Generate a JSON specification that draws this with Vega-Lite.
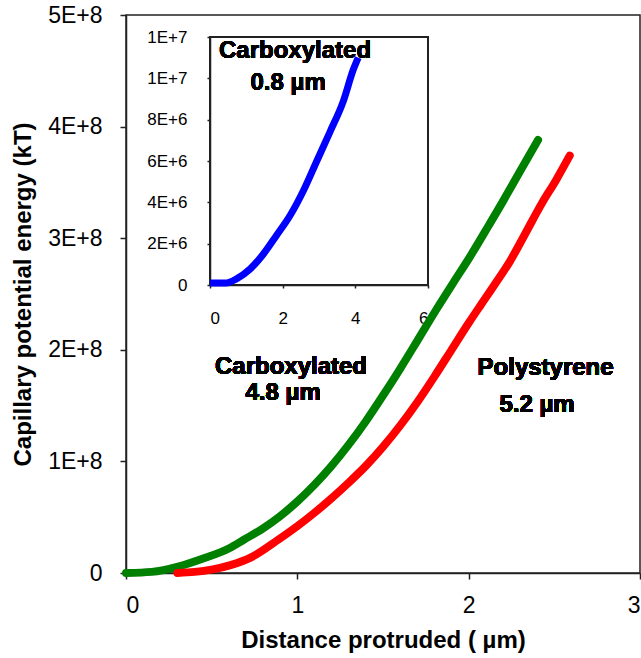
{
  "$schema": "https://vega.github.io/schema/vega-lite/v6.json",
  "width": 514,
  "height": 558,
  "autosize": {"type": "none"},
  "padding": {"left": 126, "top": 15, "right": 1, "bottom": 85},
  "background": "white",
  "config": {
    "view": {"stroke": "#222222", "strokeWidth": 1.5},
    "axis": {"grid": false, "domainColor": "#222222", "domainWidth": 1.5, "tickColor": "#222222", "tickWidth": 1.5, "labelColor": "black", "titleColor": "black", "labelFont": "Liberation Sans", "titleFont": "Liberation Sans"},
    "text": {"font": "Liberation Sans", "color": "black"}
  },
  "layer": [
    {
      "data": {"values": [
        {"sample": "Carboxylated 4.8 µm", "d": 0.0, "e": 0.0},
        {"sample": "Carboxylated 4.8 µm", "d": 0.15, "e": 0.01e8},
        {"sample": "Carboxylated 4.8 µm", "d": 0.31, "e": 0.06e8},
        {"sample": "Carboxylated 4.8 µm", "d": 0.45, "e": 0.13e8},
        {"sample": "Carboxylated 4.8 µm", "d": 0.6, "e": 0.22e8},
        {"sample": "Carboxylated 4.8 µm", "d": 0.69, "e": 0.3e8},
        {"sample": "Carboxylated 4.8 µm", "d": 0.8, "e": 0.4e8},
        {"sample": "Carboxylated 4.8 µm", "d": 0.9, "e": 0.51e8},
        {"sample": "Carboxylated 4.8 µm", "d": 1.0, "e": 0.64e8},
        {"sample": "Carboxylated 4.8 µm", "d": 1.1, "e": 0.79e8},
        {"sample": "Carboxylated 4.8 µm", "d": 1.2, "e": 0.96e8},
        {"sample": "Carboxylated 4.8 µm", "d": 1.3, "e": 1.15e8},
        {"sample": "Carboxylated 4.8 µm", "d": 1.4, "e": 1.36e8},
        {"sample": "Carboxylated 4.8 µm", "d": 1.5, "e": 1.59e8},
        {"sample": "Carboxylated 4.8 µm", "d": 1.6, "e": 1.83e8},
        {"sample": "Carboxylated 4.8 µm", "d": 1.7, "e": 2.08e8},
        {"sample": "Carboxylated 4.8 µm", "d": 1.815, "e": 2.37e8},
        {"sample": "Carboxylated 4.8 µm", "d": 1.91, "e": 2.6e8},
        {"sample": "Carboxylated 4.8 µm", "d": 2.01, "e": 2.84e8},
        {"sample": "Carboxylated 4.8 µm", "d": 2.1, "e": 3.07e8},
        {"sample": "Carboxylated 4.8 µm", "d": 2.2, "e": 3.33e8},
        {"sample": "Carboxylated 4.8 µm", "d": 2.3, "e": 3.6e8},
        {"sample": "Carboxylated 4.8 µm", "d": 2.405, "e": 3.88e8},
        {"sample": "Polystyrene 5.2 µm", "d": 0.3, "e": 0.0},
        {"sample": "Polystyrene 5.2 µm", "d": 0.4, "e": 0.01e8},
        {"sample": "Polystyrene 5.2 µm", "d": 0.5, "e": 0.03e8},
        {"sample": "Polystyrene 5.2 µm", "d": 0.61, "e": 0.07e8},
        {"sample": "Polystyrene 5.2 µm", "d": 0.73, "e": 0.14e8},
        {"sample": "Polystyrene 5.2 µm", "d": 0.89, "e": 0.3e8},
        {"sample": "Polystyrene 5.2 µm", "d": 1.0, "e": 0.42e8},
        {"sample": "Polystyrene 5.2 µm", "d": 1.1, "e": 0.54e8},
        {"sample": "Polystyrene 5.2 µm", "d": 1.2, "e": 0.67e8},
        {"sample": "Polystyrene 5.2 µm", "d": 1.3, "e": 0.81e8},
        {"sample": "Polystyrene 5.2 µm", "d": 1.4, "e": 0.96e8},
        {"sample": "Polystyrene 5.2 µm", "d": 1.5, "e": 1.13e8},
        {"sample": "Polystyrene 5.2 µm", "d": 1.6, "e": 1.32e8},
        {"sample": "Polystyrene 5.2 µm", "d": 1.7, "e": 1.53e8},
        {"sample": "Polystyrene 5.2 µm", "d": 1.8, "e": 1.76e8},
        {"sample": "Polystyrene 5.2 µm", "d": 1.9, "e": 2.0e8},
        {"sample": "Polystyrene 5.2 µm", "d": 2.0, "e": 2.24e8},
        {"sample": "Polystyrene 5.2 µm", "d": 2.07, "e": 2.4e8},
        {"sample": "Polystyrene 5.2 µm", "d": 2.15, "e": 2.58e8},
        {"sample": "Polystyrene 5.2 µm", "d": 2.24, "e": 2.79e8},
        {"sample": "Polystyrene 5.2 µm", "d": 2.33, "e": 3.04e8},
        {"sample": "Polystyrene 5.2 µm", "d": 2.43, "e": 3.32e8},
        {"sample": "Polystyrene 5.2 µm", "d": 2.51, "e": 3.52e8},
        {"sample": "Polystyrene 5.2 µm", "d": 2.59, "e": 3.74e8}
      ]},
      "layer": [
        {
          "mark": {"type": "line", "strokeWidth": 8, "strokeCap": "round", "strokeJoin": "round", "interpolate": "monotone"},
          "encoding": {
            "x": {"field": "d", "type": "quantitative", "scale": {"domain": [0, 3], "nice": false, "zero": false},
              "axis": {"values": [0, 1, 2, 3], "format": "d", "title": "Distance protruded ( µm)", "labelFontSize": 23, "titleFontSize": 24, "titleFontWeight": "bold", "tickSize": 6, "labelPadding": 15, "titlePadding": 11}},
            "y": {"field": "e", "type": "quantitative", "scale": {"domain": [0, 500000000], "nice": false},
              "axis": {"values": [0, 100000000, 200000000, 300000000, 400000000, 500000000], "labelExpr": "datum.value == 0 ? '0' : format(datum.value / 100000000, 'd') + 'E+8'", "title": "Capillary potential energy (kT)", "labelFontSize": 23, "titleFontSize": 24, "titleFontWeight": "bold", "tickSize": 6, "labelPadding": 18, "titlePadding": 12}},
            "color": {"field": "sample", "type": "nominal", "scale": {"domain": ["Carboxylated 4.8 µm", "Polystyrene 5.2 µm"], "range": ["#008000", "#ff0000"]}, "legend": null}
          }
        },
        {
          "mark": {"type": "text", "text": "Carboxylated", "fontSize": 24, "fontWeight": "bold", "align": "center", "baseline": "middle", "color": "black"},
          "encoding": {"x": {"datum": 0.963, "type": "quantitative"}, "y": {"datum": 184600000, "type": "quantitative"}}
        },
        {
          "mark": {"type": "text", "text": "4.8 µm", "fontSize": 24, "fontWeight": "bold", "align": "center", "baseline": "middle", "color": "black"},
          "encoding": {"x": {"datum": 0.917, "type": "quantitative"}, "y": {"datum": 161300000, "type": "quantitative"}}
        },
        {
          "mark": {"type": "text", "text": "Polystyrene", "fontSize": 24, "fontWeight": "bold", "align": "center", "baseline": "middle", "color": "black"},
          "encoding": {"x": {"datum": 2.449, "type": "quantitative"}, "y": {"datum": 183700000, "type": "quantitative"}}
        },
        {
          "mark": {"type": "text", "text": "5.2 µm", "fontSize": 24, "fontWeight": "bold", "align": "center", "baseline": "middle", "color": "black"},
          "encoding": {"x": {"datum": 2.399, "type": "quantitative"}, "y": {"datum": 150500000, "type": "quantitative"}}
        }
      ]
    },
    {
      "data": {"values": [
        {"d": 0.0, "e": 100000},
        {"d": 0.45, "e": 100000},
        {"d": 0.73, "e": 300000},
        {"d": 1.1, "e": 770000},
        {"d": 1.47, "e": 1500000},
        {"d": 1.83, "e": 2400000},
        {"d": 2.2, "e": 3350000},
        {"d": 2.57, "e": 4560000},
        {"d": 2.94, "e": 6000000},
        {"d": 3.3, "e": 7400000},
        {"d": 3.67, "e": 8900000},
        {"d": 3.94, "e": 10400000},
        {"d": 4.08, "e": 11000000}
      ]},
      "layer": [
        {
          "mark": {"type": "rect", "fillOpacity": 0, "stroke": "#222222", "strokeWidth": 1.5},
          "encoding": {
            "x": {"datum": 0, "type": "quantitative", "scale": {"domain": [0, 6], "range": [84, 302], "nice": false},
              "axis": {"orient": "bottom", "offset": -288, "values": [0, 2, 4, 6], "format": "d", "title": null, "labelFontSize": 17, "tickSize": 3, "labelPadding": 22, "domain": true}},
            "x2": {"datum": 6},
            "y": {"datum": 0, "type": "quantitative", "scale": {"domain": [0, 12000000], "range": [270, 22], "nice": false},
              "axis": {"orient": "left", "offset": -84, "values": [0, 2000000, 4000000, 6000000, 8000000, 10000000, 12000000], "labelExpr": "datum.value == 0 ? '0' : (datum.value >= 10000000 ? '1E+7' : format(datum.value / 1000000, 'd') + 'E+6')", "title": null, "labelFontSize": 17, "tickSize": 3, "labelPadding": 20, "domain": true}},
            "y2": {"datum": 12000000}
          }
        },
        {
          "mark": {"type": "line", "color": "#0000ff", "strokeWidth": 7, "strokeCap": "butt", "strokeJoin": "round", "interpolate": "monotone"},
          "encoding": {
            "x": {"field": "d", "type": "quantitative"},
            "y": {"field": "e", "type": "quantitative"}
          }
        },
        {
          "mark": {"type": "text", "text": "Carboxylated", "fontSize": 24, "fontWeight": "bold", "align": "center", "baseline": "middle", "color": "black"},
          "encoding": {"x": {"datum": 2.34, "type": "quantitative"}, "y": {"datum": 11320000, "type": "quantitative"}}
        },
        {
          "mark": {"type": "text", "text": "0.8 µm", "fontSize": 24, "fontWeight": "bold", "align": "center", "baseline": "middle", "color": "black"},
          "encoding": {"x": {"datum": 2.15, "type": "quantitative"}, "y": {"datum": 9770000, "type": "quantitative"}}
        }
      ]
    }
  ],
  "resolve": {
    "scale": {"x": "independent", "y": "independent", "color": "independent"},
    "axis": {"x": "independent", "y": "independent"}
  }
}
